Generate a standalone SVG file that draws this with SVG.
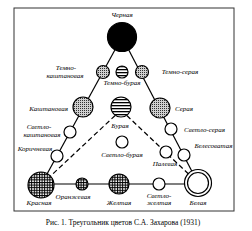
<svg xmlns="http://www.w3.org/2000/svg" width="252" height="231" viewBox="0 0 252 231">
<defs>
<pattern id="dots" width="2" height="2" patternUnits="userSpaceOnUse">
<rect width="2" height="2" fill="#d0d0d0"/>
<rect width="1" height="1" fill="#333"/>
</pattern>
<pattern id="stripes" width="3" height="3" patternUnits="userSpaceOnUse">
<rect width="3" height="3" fill="#fff"/>
<rect y="0" width="3" height="1.3" fill="#000"/>
</pattern>
<pattern id="plaid" width="2.6" height="2.6" patternUnits="userSpaceOnUse">
<rect width="2.6" height="2.6" fill="#fff"/>
<rect width="2.6" height="1" fill="#000"/>
<rect width="1" height="2.6" fill="#000"/>
</pattern>
</defs>
<style>
.c{stroke:#000;stroke-width:1.2}
.w{fill:#fff}
.d{fill:url(#dots)}
.s{fill:url(#stripes)}
.p{fill:url(#plaid)}
.l{stroke:#000;stroke-width:1.2;fill:none}
.dash{stroke-dasharray:5,3}
text{font-family:"Liberation Serif","Times New Roman",serif;font-size:7px;fill:#000}
.i{font-style:italic}
.m{text-anchor:middle}
.e{text-anchor:end}
</style>
<rect x="14" y="8" width="220" height="203" fill="none" stroke="#333" stroke-width="1"/>
<g id="connectors">
<line class="l" x1="122" y1="37" x2="41" y2="185"/>
<line class="l" x1="122" y1="37" x2="198" y2="183"/>
<line class="l" x1="41" y1="184" x2="198" y2="184"/>
<line class="l dash" x1="121" y1="110" x2="41" y2="185"/>
<line class="l dash" x1="121" y1="110" x2="198" y2="183"/>
</g>
<g id="cherna"><circle cx="122" cy="37" r="14.5" fill="#000" class="c"/><text class="i m" x="122" y="17">Черная</text></g>
<g id="temno-kasht"><circle class="c d" cx="103" cy="72" r="6.5"/><text class="i m" x="66" y="70">Темно-</text><text class="i m" x="65" y="78">каштановая</text></g>
<g id="temno-bur"><circle class="c s" cx="122" cy="72" r="6"/><text class="i m" x="122" y="85">Темно-бурая</text></g>
<g id="temno-ser"><circle class="c d" cx="142" cy="72" r="6.5"/><text class="i m" x="180" y="74">Темно-серая</text></g>
<g id="kasht"><circle class="c d" cx="83" cy="107" r="10"/><text class="i e" x="68" y="111">Каштановая</text></g>
<g id="bur"><circle class="c s" cx="121" cy="107" r="10"/><text class="i m" x="120" y="128">Бурая</text></g>
<g id="ser"><circle class="c d" cx="160" cy="108" r="10"/><text class="i" x="175" y="111">Серая</text></g>
<g id="svetlo-kasht"><circle class="c w" cx="70" cy="132" r="6"/><text class="i m" x="39" y="129">Светло-</text><text class="i m" x="42" y="137">каштановая</text></g>
<g id="svetlo-ser"><circle class="c w" cx="171" cy="129" r="6"/><text class="i" x="184" y="132">Светло-серая</text></g>
<g id="svetlo-bur"><circle class="c w" cx="122" cy="142" r="6"/><text class="i m" x="122" y="157">Светло-бурая</text></g>
<g id="korich"><circle class="c w" cx="57" cy="156" r="6"/><text class="i m" x="35" y="151">Коричневая</text></g>
<g id="palev"><circle class="c w" cx="166" cy="152" r="6"/><text class="i m" x="165" y="166">Палевая</text></g>
<g id="beles"><circle class="c w" cx="184" cy="155" r="6"/><text class="i e" x="232.5" y="148">Белесоватая</text></g>
<g id="krasn"><circle class="c p" cx="41" cy="185" r="13"/><text class="i m" x="39" y="205">Красная</text></g>
<g id="oranzh"><circle class="c p" cx="82" cy="184" r="6"/><text class="i m" x="73" y="199">Оранжевая</text></g>
<g id="zhelt"><circle class="c p" cx="119" cy="184" r="10"/><text class="i m" x="119" y="205">Желтая</text></g>
<g id="svetlo-zhelt"><circle class="c w" cx="159" cy="184" r="6"/><text class="i m" x="159" y="198">Светло-</text><text class="i m" x="159" y="205">желтая</text></g>
<g id="bel"><circle class="c w" cx="198" cy="183" r="13.5"/><circle class="c w" cx="198" cy="183" r="10.5"/><text class="i m" x="198" y="205">Белая</text></g>
<text class="m" x="123" y="225" style="font-size:7.5px">Рис. 1. Треугольник цветов С.А. Захарова (1931)</text>
</svg>
